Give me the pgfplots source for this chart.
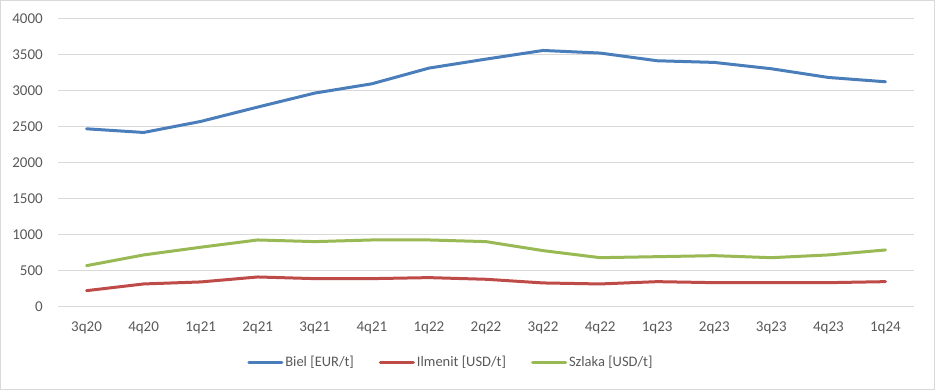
\documentclass[border=0pt]{standalone}
\usepackage{fontspec}
\setmainfont{Carlito}
\usepackage{pgfplots}
\pgfplotsset{compat=1.18}
\definecolor{cBlue}{HTML}{4A7EBB}
\definecolor{cRed}{HTML}{BE4B48}
\definecolor{cGreen}{HTML}{98B954}
\definecolor{gridgray}{HTML}{D9D9D9}
\definecolor{txtgray}{HTML}{595959}
\begin{document}
\begin{tikzpicture}[x=1pt,y=1pt]
\path[use as bounding box] (0,0) rectangle (935,390);
\draw[color=gridgray, line width=1pt] (0.5,0.5) rectangle (934.5,389.5);
\begin{axis}[
  at={(58pt,83pt)}, anchor=south west,
  scale only axis, width=856pt, height=288pt,
  xmin=-0.5, xmax=14.5, ymin=0, ymax=4000,
  ytick={0,500,...,4000},
  xtick={0,...,14},
  xticklabels={3q20,4q20,1q21,2q21,3q21,4q21,1q22,2q22,3q22,4q22,1q23,2q23,3q23,4q23,1q24},
  ymajorgrids, grid style={color=gridgray, line width=1pt},
  axis line style={draw=none},
  major tick style={draw=none},
  /pgf/number format/assume math mode=true,
  /pgf/number format/1000 sep={},
  ticklabel style={font=\fontsize{15}{17}\selectfont, text=txtgray, inner sep=0pt},
  yticklabel style={xshift=-15pt},
  xticklabel style={yshift=-15pt},
  legend style={at={(0.459,-0.191)}, anchor=center, draw=none, fill=none,
    font=\fontsize{14.5}{16}\selectfont, text=txtgray, inner sep=0pt,
    /tikz/every even column/.append style={column sep=23pt}},
  legend columns=3,
  legend image code/.code={\draw[#1] (0pt,0pt) -- (33pt,0pt);},
  every axis plot/.append style={line width=3pt, line join=round, line cap=round},
]
\addplot[cBlue] coordinates {(0,2475)(1,2424)(2,2577)(3,2777)(4,2971)(5,3100)(6,3318)(7,3443)(8,3563)(9,3527)(10,3420)(11,3397)(12,3309)(13,3188)(14,3128)};
\addlegendentry{Biel [EUR/t]}
\addplot[cRed] coordinates {(0,227)(1,320)(2,348)(3,417)(4,394)(5,394)(6,408)(7,385)(8,334)(9,320)(10,352)(11,338)(12,338)(13,338)(14,352)};
\addlegendentry{Ilmenit [USD/t]}
\addplot[cGreen] coordinates {(0,574)(1,723)(2,830)(3,931)(4,908)(5,931)(6,931)(7,908)(8,783)(9,685)(10,699)(11,713)(12,685)(13,723)(14,792)};
\addlegendentry{Szlaka [USD/t]}
\end{axis}
\end{tikzpicture}
\end{document}
